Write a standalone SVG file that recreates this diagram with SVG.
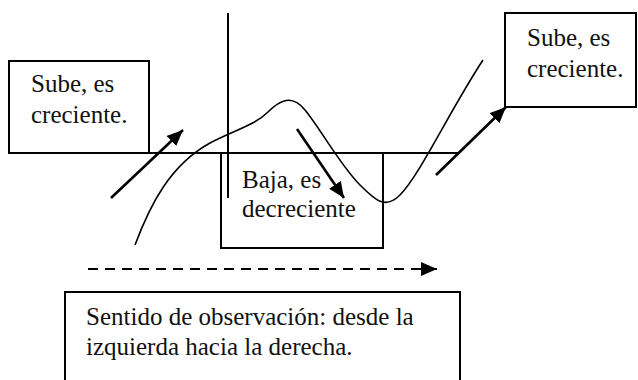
<svg xmlns="http://www.w3.org/2000/svg" width="638" height="380" viewBox="0 0 638 380">
<style>
  .box { fill: none; stroke: #000; stroke-width: 2; }
  .lbl { font-size: 25px; fill: #111; }
  .axis { stroke: #000; stroke-width: 2; fill: none; }
  .curve { stroke: #000; stroke-width: 1.6; fill: none; }
  .arr { stroke: #000; stroke-width: 2.6; fill: none; marker-end: url(#ah); }
  .dash { stroke: #000; stroke-width: 2.2; fill: none; stroke-dasharray: 10 7; marker-end: url(#ah); }
</style>
<defs>
  <marker id="ah" markerUnits="userSpaceOnUse" markerWidth="18" markerHeight="14" refX="16" refY="7" orient="auto">
    <path d="M0,0 L16,7 L0,14 Z" fill="#000"/>
  </marker>
</defs>
<rect width="638" height="380" fill="#fff"/>
<g id="connectors">
  <line class="axis" x1="228" y1="13" x2="228" y2="198"/>
  <line class="axis" x1="149" y1="153" x2="458" y2="153"/>
  <path class="curve" d="M135,245 C150,205 170,165 210,143 C235,130 255,125 268,112 C280,100 292,94 305,110 C320,128 340,165 360,185 C375,200 385,210 400,195 C420,175 450,110 483,60"/>
  <line class="arr" x1="111" y1="198" x2="183" y2="130"/>
  <line class="arr" x1="297" y1="129" x2="344" y2="198"/>
  <line class="arr" x1="436" y1="175" x2="506" y2="107"/>
  <line class="dash" x1="88" y1="269" x2="437" y2="269"/>
</g>
<g id="box-left" font-family="Liberation Serif, DejaVu Serif, serif">
  <rect class="box" x="9" y="61" width="140" height="92"/>
  <text class="lbl" x="31" y="92">Sube, es</text>
  <text class="lbl" x="31" y="123">creciente.</text>
</g>
<g id="box-right" font-family="Liberation Serif, DejaVu Serif, serif">
  <rect class="box" x="505" y="13" width="131" height="94"/>
  <text class="lbl" x="527" y="46">Sube, es</text>
  <text class="lbl" x="527" y="77">creciente.</text>
</g>
<g id="box-middle" font-family="Liberation Serif, DejaVu Serif, serif">
  <path class="box" d="M221,154 L221,248 L383,248 L383,154"/>
  <text class="lbl" x="242" y="188">Baja, es</text>
  <text class="lbl" x="242" y="217">decreciente</text>
</g>
<g id="box-bottom" font-family="Liberation Serif, DejaVu Serif, serif">
  <rect class="box" x="65" y="292" width="395" height="100"/>
  <text class="lbl" x="86" y="325">Sentido de observación: desde la</text>
  <text class="lbl" x="86" y="355">izquierda hacia la derecha.</text>
</g>
</svg>
